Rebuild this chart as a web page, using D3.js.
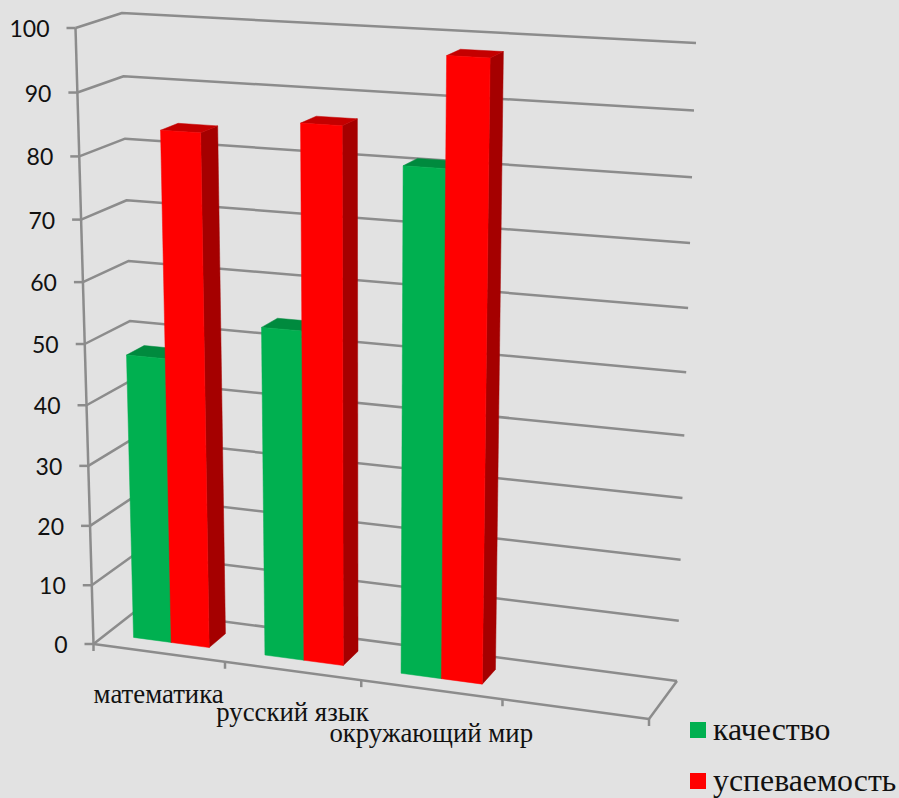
<!DOCTYPE html>
<html><head><meta charset="utf-8">
<script src="https://cdn.jsdelivr.net/npm/d3@7"></script>
<style>html,body{margin:0;padding:0;background:#e2e2e2}svg{display:block}</style></head>
<body><svg id="c" width="899" height="798"></svg>
<script>
const categories = ["математика","русский язык","окружающий мир",""];
const seriesNames = ["качество","успеваемость"];
const quality = [47.5,54,81];
const progress = [84,86.5,98];
const yTicks = [0,10,20,30,40,50,60,70,80,90,100];
const colors = {
  "качество":{front:"#00b050",top:"#008a3e",side:"#007a35"},
  "успеваемость":{front:"#ff0000",top:"#c40000",side:"#a50000"}
};
const W=899,H=798;
const svg=d3.select("#c");
svg.append("rect").attr("width",W).attr("height",H).attr("fill","#e2e2e2");

const corners={
  fl0:[93.5,644],fr0:[649,719],bl0:[137,610],br0:[677,681],
  fl1:[75.5,28],fr1:[669,59],bl1:[122,13],br1:[696,43]
};
const persp=k=>t=>t*(1+k)/(1+k*t);
const warpU=persp(-0.0695);
const vScale=d3.scaleLinear().domain([0,100]).range([0,1]);
const kDepth=d3.scaleLinear().domain([0,1]).range([-0.0507,-0.062]);
const lerp=(a,b,t)=>[a[0]+(b[0]-a[0])*t,a[1]+(b[1]-a[1])*t];
function P(u,v,d){
  const tu=warpU(u), tv=persp(kDepth(d))(vScale(v));
  const base=lerp(lerp(corners.fl0,corners.fr0,tu),lerp(corners.bl0,corners.br0,tu),d);
  const top=lerp(lerp(corners.fl1,corners.fr1,tu),lerp(corners.bl1,corners.br1,tu),d);
  return lerp(base,top,tv);
}
const catBand=d3.scaleBand().domain(categories.map((c,i)=>i)).range([0,1]).paddingInner(0.42).paddingOuter(0.21);
const serBand=d3.scaleBand().domain(seriesNames).range([0,catBand.bandwidth()]);
const catStep=catBand.step();
const depth=[0.3,0.7];
const line=d3.line();
const axisColor="#8c8c8c";
const g=svg.append("g");
const strokeLine=(pts)=>g.append("path").attr("d",line(pts)).attr("fill","none").attr("stroke",axisColor).attr("stroke-width",2.5).attr("stroke-linejoin","round");

yTicks.forEach(v=>strokeLine([P(0,v,0),P(0,v,1),P(1,v,1)]));
strokeLine([P(0,0,0),P(1,0,0),P(1,0,1)]);
strokeLine([P(0,0,0),P(0,100,0)]);
yTicks.forEach(v=>{
  const p=P(0,v,0);
  strokeLine([[p[0]-9,p[1]],p]);
  g.append("text").text(v).attr("x",p[0]-26).attr("y",p[1]+9).attr("text-anchor","end")
   .attr("font-family","Lato").attr("font-size",23).attr("fill","#111");
});
d3.range(categories.length+1).forEach(i=>{
  const p=P(i*catStep,0,0);
  strokeLine([p,[p[0],p[1]+7]]);
});
function bar(i,name,val){
  const c=colors[name];
  const u0=catBand(i)+serBand(name),u1=u0+serBand.bandwidth();
  const [d0,d1]=depth;
  const poly=(pts,fill)=>g.append("path").attr("d",line(pts)+"Z").attr("fill",fill).attr("stroke",fill).attr("stroke-width",0.5);
  poly([P(u1,0,d0),P(u1,0,d1),P(u1,val,d1),P(u1,val,d0)],c.side);
  poly([P(u0,val,d0),P(u1,val,d0),P(u1,val,d1),P(u0,val,d1)],c.top);
  poly([P(u0,0,d0),P(u1,0,d0),P(u1,val,d0),P(u0,val,d0)],c.front);
}
d3.range(quality.length).forEach(i=>{
  bar(i,seriesNames[0],quality[i]);
  bar(i,seriesNames[1],progress[i]);
});
const labelStagger=[0,0,2];
categories.forEach((c,i)=>{
  if(!c)return;
  const p=P(catBand(i)+catBand.bandwidth()/2,0,0);
  g.append("text").text(c).attr("x",p[0]).attr("y",p[1]+50+labelStagger[i]).attr("text-anchor","middle")
   .attr("font-family","Liberation Serif").attr("font-size",26.8).attr("fill","#111");
});
const legendY=d3.scalePoint().domain(seriesNames).range([722,773]);
seriesNames.forEach(n=>{
  const y=legendY(n);
  g.append("rect").attr("x",690).attr("y",y).attr("width",16).attr("height",16).attr("fill",colors[n].front);
  g.append("text").text(n).attr("x",713).attr("y",y+18).attr("font-family","Liberation Serif").attr("font-size",31.8).attr("fill","#111");
});
</script></body></html>
